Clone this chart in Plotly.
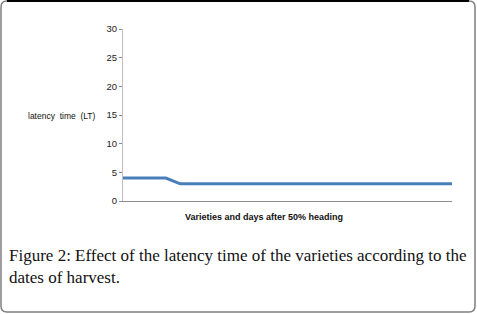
import plotly.graph_objects as go

# Data
points = list(range(1, 25))
latency = [4, 4, 4, 4] + [3] * 20
y_ticks = [0, 5, 10, 15, 20, 25, 30]

W, H = 477, 314
L, R, T, B = 123, 452, 29, 201


def px(x):
    return (x - L) / (R - L)


def py(y):
    return (B - y) / (B - T)


fig = go.Figure()
fig.add_trace(go.Scatter(
    x=points, y=latency, mode="lines",
    line=dict(color="#4A7EBB", width=3),
    hoverinfo="skip", showlegend=False,
))

fig.update_layout(
    width=W, height=H,
    margin=dict(l=L, r=W - R, t=T, b=H - B),
    paper_bgcolor="white", plot_bgcolor="white",
    showlegend=False,
    xaxis=dict(
        range=[points[0], points[-1]], showgrid=False, zeroline=False,
        showticklabels=False, ticks="", showline=True,
        linecolor="#8C8C8C", linewidth=1, fixedrange=True,
    ),
    yaxis=dict(
        range=[0, 30], tickvals=y_ticks, showgrid=False, zeroline=False,
        showline=True, linecolor="#BFBFBF", linewidth=1,
        ticks="outside", ticklen=3, tickcolor="#8C8C8C",
        tickfont=dict(family="Liberation Sans, Arial", size=9.5, color="#222"),
        fixedrange=True,
    ),
    font=dict(family="Liberation Sans, Arial"),
)

# Y-axis title (horizontal)
fig.add_annotation(
    x=px(98), y=py(116), xref="paper", yref="paper",
    xanchor="right", yanchor="middle", showarrow=False,
    text="latency&nbsp;&nbsp;time&nbsp;&nbsp;(LT)",
    font=dict(family="Liberation Sans, Arial", size=8.5, color="#111"),
)
# X-axis title
fig.add_annotation(
    x=px(264), y=py(217), xref="paper", yref="paper",
    xanchor="center", yanchor="middle", showarrow=False,
    text="<b>Varieties and days after 50% heading</b>",
    font=dict(family="Liberation Sans, Arial", size=9, color="#111"),
)
# Caption
fig.add_annotation(
    x=px(7), y=py(244), xref="paper", yref="paper",
    xanchor="left", yanchor="top", showarrow=False, align="left",
    text="Figure 2: Effect of the latency time of the varieties according to the<br>dates of harvest.",
    font=dict(family="Liberation Serif, Times New Roman", size=17, color="#111"),
)

# Rounded border frame
x0, x1, y0, y1, r = 1, 475, 1, 312, 6
path = (
    f"M {px(x0)},{py(y0 + r)} "
    f"Q {px(x0)},{py(y0)} {px(x0 + r)},{py(y0)} "
    f"L {px(x1 - r)},{py(y0)} "
    f"Q {px(x1)},{py(y0)} {px(x1)},{py(y0 + r)} "
    f"L {px(x1)},{py(y1 - r)} "
    f"Q {px(x1)},{py(y1)} {px(x1 - r)},{py(y1)} "
    f"L {px(x0 + r)},{py(y1)} "
    f"Q {px(x0)},{py(y1)} {px(x0)},{py(y1 - r)} Z"
)
fig.add_shape(type="path", path=path, xref="paper", yref="paper",
              line=dict(color="#7F7F7F", width=1.5))
fig.add_shape(type="line", xref="paper", yref="paper",
              x0=px(x0 + r), x1=px(x1 - r), y0=py(y0), y1=py(y0),
              line=dict(color="#000", width=2))

fig.write_html(
    "out.html",
    config={"displayModeBar": False},
    post_script="document.body.style.margin='0';document.body.style.padding='0';",
)
